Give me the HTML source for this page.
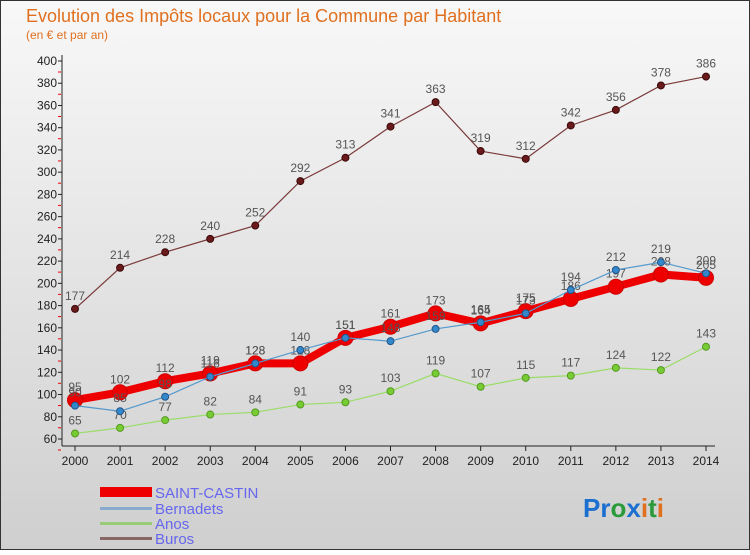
<!DOCTYPE html>
<html><head><meta charset="utf-8"><style>
body{margin:0;width:750px;height:550px;overflow:hidden;font-family:"Liberation Sans",sans-serif}
svg text{font-family:"Liberation Sans",sans-serif}
</style></head><body>
<svg id="c" width="750" height="550" xmlns="http://www.w3.org/2000/svg">
<defs><linearGradient id="bg" x1="0" y1="0" x2="0" y2="1"><stop offset="0" stop-color="#f8f8f8"/><stop offset="1" stop-color="#cfcfcf"/></linearGradient></defs>
<rect x="0.5" y="0.5" width="749" height="549" fill="url(#bg)" stroke="#333"/>
<text x="26" y="22" font-size="18" fill="#e07020">Evolution des Impôts locaux pour la Commune par Habitant</text>
<text x="26" y="39" font-size="12" fill="#e07020">(en € et par an)</text>
<g id="axes"></g><g id="series"></g>
<g>
<rect x="100" y="487" width="52" height="10" fill="#e00"/>
<text x="155" y="498" font-size="15" fill="#6666ee">SAINT-CASTIN</text>
<rect x="100" y="507" width="52" height="3" fill="#88aacc"/>
<text x="155" y="514" font-size="15" fill="#6666ee">Bernadets</text>
<rect x="100" y="522" width="52" height="3" fill="#99cc77"/>
<text x="155" y="529" font-size="15" fill="#6666ee">Anos</text>
<rect x="100" y="537" width="52" height="3" fill="#886666"/>
<text x="155" y="544" font-size="15" fill="#6666ee">Buros</text>
</g>
<text x="583" y="517" font-size="26" font-weight="bold"><tspan fill="#1a6fd0">Pr</tspan><tspan fill="#2a9a3a">o</tspan><tspan fill="#1a6fd0">x</tspan><tspan fill="#e07020">i</tspan><tspan fill="#2a9a3a">t</tspan><tspan fill="#e07020">i</tspan></text>
</svg>
<script>
const years=[2000,2001,2002,2003,2004,2005,2006,2007,2008,2009,2010,2011,2012,2013,2014];
const saintCastin=[95,102,112,119,128,128,151,161,173,164,175,186,197,208,205];
const bernadets=[90,85,98,116,128,140,151,148,159,165,173,194,212,219,209];
const anos=[65,70,77,82,84,91,93,103,119,107,115,117,124,122,143];
const buros=[177,214,228,240,252,292,313,341,363,319,312,342,356,378,386];
const yTicks=[60,80,100,120,140,160,180,200,220,240,260,280,300,320,340,360,380,400];
const NS="http://www.w3.org/2000/svg";
const x=i=>75+i*(706-75)/(years.length-1);
const y=v=>439-(v-60)*(439-61)/340;
function mk(t,a,p){const e=document.createElementNS(NS,t);for(const k in a)e.setAttribute(k,a[k]);p.appendChild(e);return e;}
const ax=document.getElementById('axes');
mk('line',{x1:62,y1:55,x2:62,y2:446,stroke:'#222'},ax);
mk('line',{x1:62,y1:446,x2:715,y2:446,stroke:'#222'},ax);
yTicks.forEach(v=>{
 const t=mk('text',{x:57,y:y(v)+4,'font-size':12,fill:'#222','text-anchor':'end'},ax);t.textContent=v;
 
 
 mk('line',{x1:58,y1:y(v),x2:62,y2:y(v),stroke:'#222'},ax);
 mk('line',{x1:58,y1:y(v)+11,x2:61,y2:y(v)+11,stroke:'#e00'},ax);
});
years.forEach((yr,i)=>{
 mk('line',{x1:x(i),y1:446,x2:x(i),y2:451,stroke:'#222'},ax);
 const t=mk('text',{x:x(i),y:465,'font-size':12,fill:'#222','text-anchor':'middle'},ax);t.textContent=yr;
 
 
});
const sg=document.getElementById('series');
function draw(data,name,col,w,r,dot,stroke){
 const g=mk('g',{},sg);
 
 
 mk('polyline',{points:data.map((v,i)=>x(i)+','+y(v)).join(' '),fill:'none',stroke:col,'stroke-width':w},g);
 data.forEach((v,i)=>{
  const c=mk('circle',{cx:x(i),cy:y(v),r:r,fill:dot,stroke:stroke,'stroke-width':1},g);
  
  
  const t=mk('text',{x:x(i),y:y(v)-9,'font-size':12,fill:'#555','text-anchor':'middle'},g);t.textContent=v;
  
  
 });
}
draw(buros,'buros','#7a3a3a',1.2,3.5,'#6a1a1a','#3a0a0a');
draw(anos,'anos','#99dd66',1.2,3.5,'#77cc33','#559922');
draw(saintCastin,'saint-castin','#e00',8,7.5,'#e00','#c00');
draw(bernadets,'bernadets','#5599cc',1.2,3.5,'#3388cc','#225588');
</script>
</body></html>
